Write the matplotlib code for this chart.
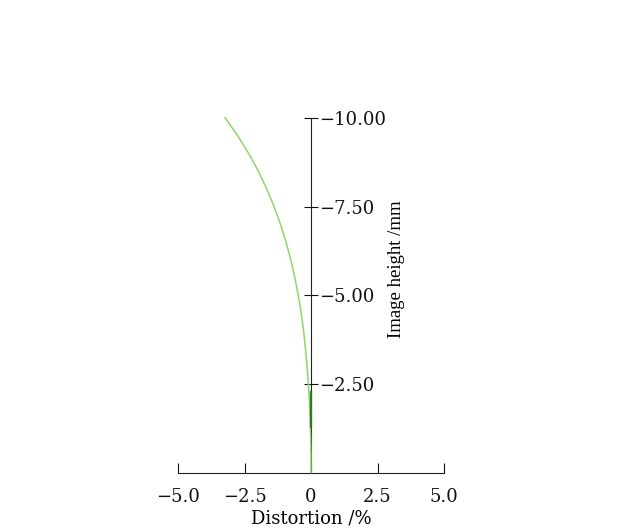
import numpy as np
import matplotlib.pyplot as plt

plt.rcParams['font.family'] = ['DejaVu Serif']
plt.rcParams['axes.unicode_minus'] = True

# image height (mm) and distortion (%)
height = [0, -0.5, -1.0, -1.5, -2.0, -2.5, -3.0, -3.5, -4.0, -4.5, -5.0,
          -5.5, -6.0, -6.5, -7.0, -7.5, -8.0, -8.5, -9.0, -9.5, -10.0]
distortion = [0, -0.004, -0.015, -0.034, -0.06, -0.10, -0.15, -0.21, -0.28, -0.37, -0.48,
              -0.61, -0.76, -0.94, -1.15, -1.39, -1.67, -1.98, -2.35, -2.76, -3.23]
dark_h = [-1.29, -2.28]
dark_d = [0, 0]

xticks = [-5.0, -2.5, 0, 2.5, 5.0]
xticklabels = ['\u22125.0', '\u22122.5', '0', '2.5', '5.0']
yticks = [-10.0, -7.5, -5.0, -2.5]
yticklabels = ['\u221210.00', '\u22127.50', '\u22125.00', '\u22122.50']

fig = plt.figure(figsize=(6.24, 5.32), dpi=100)
ax = fig.add_axes([0.2853, 0.1118, 0.4263, 0.6667])

ax.plot(distortion, height, color='#8ed66a', lw=1.1, zorder=4, clip_on=False)
ax.plot(dark_d, dark_h, color='#2f7a1c', lw=1.6, zorder=5)

ax.set_xlim(-5, 5)
ax.set_ylim(0, -10)

ax.spines['left'].set_visible(False)
ax.spines['top'].set_visible(False)
ax.spines['right'].set_position(('data', 0))
ax.spines['right'].set_color('#222222')
ax.spines['bottom'].set_color('#222222')

ax.yaxis.tick_right()
ax.yaxis.set_label_position('right')
ax.set_yticks(yticks)
ax.set_yticklabels(yticklabels)
ax.tick_params(axis='y', direction='inout', length=10, pad=1, labelsize=13, colors='#111111')

ax.set_xticks(xticks)
ax.set_xticklabels(xticklabels)
ax.tick_params(axis='x', direction='in', length=7, pad=11, labelsize=13, colors='#111111')

ax.set_xlabel('Distortion /%', fontsize=13, labelpad=3)
ax.set_ylabel('Image height /mm', fontsize=13.5, family=['Liberation Serif', 'DejaVu Serif'])
ax.yaxis.set_label_coords(0.79, 0.574)

fig.savefig('out.png', dpi=100)
